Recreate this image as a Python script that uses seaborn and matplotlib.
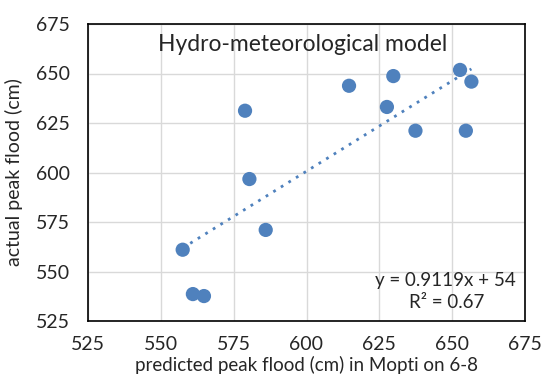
#Import Necessary Libraries
import pandas as pd
import seaborn as sns
from matplotlib import pyplot as plt

#Data Creation
predicted = [557.5, 561.0, 564.8, 586.0, 578.9, 580.4, 614.6, 629.8, 627.6, 637.4, 652.7, 656.6, 654.7]
actual = [561.0, 538.6, 537.6, 571.0, 631.2, 596.7, 643.8, 648.7, 633.1, 621.1, 651.8, 645.9, 621.1]
ticks = [525, 550, 575, 600, 625, 650, 675]

flood_data = pd.DataFrame({'predicted': predicted, 'actual': actual})

#Visualization
sns.set_style('white')
plt.rcParams['font.family'] = ['Lato', 'DejaVu Sans']
blue = '#4F81BD'

fig = plt.figure(figsize=(5.56, 3.79), dpi=100)
ax = fig.add_axes([88/556, 1 - 321/379, (525-88)/556, (321-24)/379])

sns.regplot(x='predicted', y='actual', data=flood_data, ci=None, ax=ax,
            scatter_kws={'s': 105, 'color': blue, 'edgecolor': 'none', 'alpha': 1, 'zorder': 3},
            line_kws={'color': blue, 'linestyle': (0, (1, 2.2)), 'linewidth': 2, 'zorder': 2})

ax.set_xlim(525, 675)
ax.set_ylim(525, 675)
ax.set_xticks(ticks)
ax.set_yticks(ticks)
ax.grid(True, color='#d9d9d9', linewidth=1)
ax.set_axisbelow(True)
for s in ax.spines.values():
    s.set_visible(True)
    s.set_color('black')
    s.set_linewidth(1.2)
ax.tick_params(length=0, labelsize=14, pad=11)
ax.tick_params(axis='y', pad=13)

ax.set_xlabel('predicted peak flood (cm) in Mopti on 6-8', fontsize=13.5, labelpad=2)
ax.set_ylabel('actual peak flood (cm)', fontsize=14, labelpad=9)

ax.text(0.49, 0.93, 'Hydro-meteorological model', transform=ax.transAxes,
        ha='center', va='center', fontsize=16.5)
ax.text(0.979, 0.138, 'y = 0.9119x + 54', transform=ax.transAxes,
        ha='right', va='center', fontsize=13.5)
ax.text(0.906, 0.061, 'R² = 0.67', transform=ax.transAxes,
        ha='right', va='center', fontsize=13.5)

#Save Plot
fig.savefig('out.png', dpi=100)
